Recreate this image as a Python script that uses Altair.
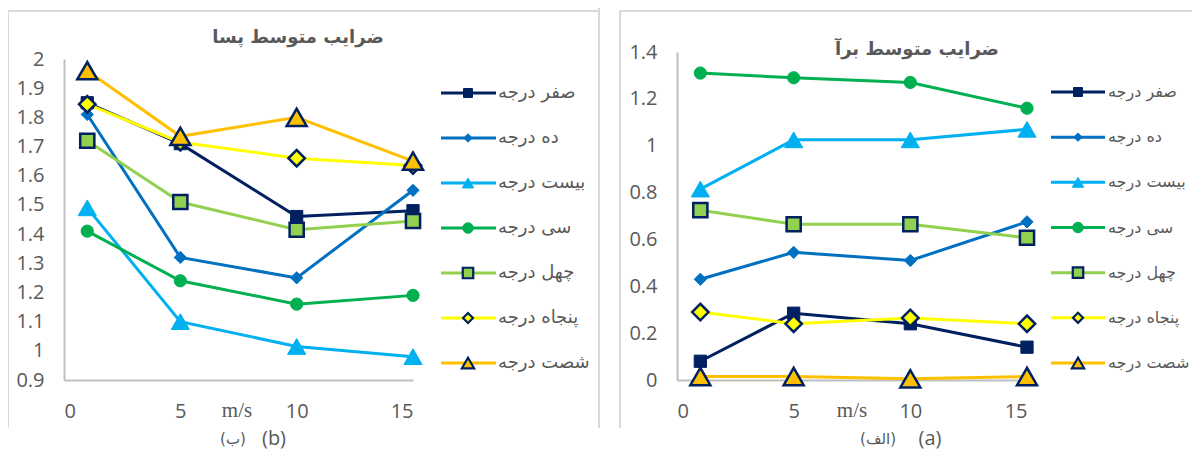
import altair as alt
import pandas as pd

# ---------------- data ----------------
series = ["صفر درجه", "ده درجه", "بیست درجه", "سی درجه", "چهل درجه", "پنجاه درجه", "شصت درجه"]
speeds = [1, 5, 10, 15]

# drag coefficients (panel b)
drag_0 = [1.85, 1.71, 1.46, 1.48]
drag_10 = [1.81, 1.32, 1.25, 1.55]
drag_20 = [1.49, 1.10, 1.015, 0.98]
drag_30 = [1.41, 1.24, 1.16, 1.19]
drag_40 = [1.72, 1.51, 1.415, 1.445]
drag_50 = [1.845, 1.715, 1.66, 1.635]
drag_60 = [1.96, 1.735, 1.80, 1.65]

# lift coefficients (panel a)
lift_0 = [0.08, 0.285, 0.24, 0.14]
lift_10 = [0.43, 0.545, 0.51, 0.675]
lift_20 = [0.815, 1.025, 1.025, 1.07]
lift_30 = [1.31, 1.29, 1.27, 1.16]
lift_40 = [0.725, 0.665, 0.665, 0.607]
lift_50 = [0.29, 0.24, 0.265, 0.24]
lift_60 = [0.015, 0.015, 0.005, 0.015]

x_ticks = [0, 5, 10, 15]
drag_ticks = [0.9, 1.0, 1.1, 1.2, 1.3, 1.4, 1.5, 1.6, 1.7, 1.8, 1.9, 2.0]
lift_ticks = [0, 0.2, 0.4, 0.6, 0.8, 1.0, 1.2, 1.4]

title_drag = "ضرایب متوسط پسا"
title_lift = "ضرایب متوسط برآ"
unit_label = "m/s"

# ---------------- styles ----------------
line_colors = ["#002060", "#0070C0", "#00B0F0", "#00B050", "#92D050", "#FFFF00", "#FFC000"]
marker_strokes = ["#002060", "#0070C0", "#00B0F0", "#00B050", "#002060", "#002060", "#002060"]
marker_shapes = ["square", "diamond", "triangle-up", "circle", "square", "diamond", "triangle-up"]
marker_sizes = [150, 150, 330, 150, 200, 270, 400]
legend_sizes = [80, 70, 130, 110, 110, 100, 150]
marker_widths = [1, 1, 1, 1, 2.5, 2.5, 2.5]
legend_widths = [1, 1, 1, 1, 2.2, 2.2, 2.2]

TXT = "#595959"
AX = "#BFBFBF"
BORDER = "#D9D9D9"
NUM_FONT = "Open Sans"
FA_FONT = "DejaVu Sans"


def long_df(arrays):
    rows = []
    for s, vals in zip(series, arrays):
        for x, v in zip(speeds, vals):
            rows.append({"series": s, "speed": x, "value": v})
    return pd.DataFrame(rows)


drag_df = long_df([drag_0, drag_10, drag_20, drag_30, drag_40, drag_50, drag_60])
lift_df = long_df([lift_0, lift_10, lift_20, lift_30, lift_40, lift_50, lift_60])

color_scale = alt.Scale(domain=series, range=line_colors)


def marker_layers(base, enc, sizes, widths):
    layers = []
    for i, s in enumerate(series):
        layers.append(
            base.transform_filter(alt.datum.series == s).mark_point(
                filled=True, opacity=1, shape=marker_shapes[i], size=sizes[i],
                strokeWidth=widths[i], fill=line_colors[i], stroke=marker_strokes[i],
            ).encode(**enc)
        )
    return layers


def panel(df, x_range, y_domain, y_range, y_ticks, y_offset):
    x = alt.X("speed:Q",
              scale=alt.Scale(domain=[0, 15], range=x_range, nice=False, zero=False),
              axis=alt.Axis(orient="bottom", values=x_ticks, format="d", grid=False, ticks=False,
                            domainColor=AX, domainWidth=2, labelColor=TXT, labelFont=NUM_FONT,
                            labelFontSize=20, labelPadding=21, title=None))
    y = alt.Y("value:Q",
              scale=alt.Scale(domain=y_domain, range=y_range, nice=False, zero=False),
              axis=alt.Axis(orient="left", values=y_ticks, format=".1~f", grid=False, ticks=False,
                            domainColor=AX, domainWidth=2, labelColor=TXT, labelFont=NUM_FONT,
                            labelFontSize=20, labelPadding=20, offset=y_offset, title=None,
                            labelOverlap=False))
    base = alt.Chart(df)
    lines = base.mark_line(strokeWidth=3).encode(
        x=x, y=y,
        color=alt.Color("series:N", scale=color_scale, legend=None),
        order="speed:Q",
    )
    pts = marker_layers(base, {"x": x, "y": y}, marker_sizes, marker_widths)
    return alt.layer(lines, *pts)


def legend(x_line0, x_line1, x_sym, x_text, y_range, font_size):
    ldf = pd.DataFrame({"series": series})
    y = alt.Y("series:N", scale=alt.Scale(type="point", domain=series, range=y_range, padding=0), axis=None)
    base = alt.Chart(ldf)
    rule = base.mark_rule(strokeWidth=3).encode(
        y=y, x=alt.value(x_line0), x2=alt.value(x_line1),
        color=alt.Color("series:N", scale=color_scale, legend=None))
    syms = marker_layers(base, {"y": y, "x": alt.value(x_sym)}, legend_sizes, legend_widths)
    txt = base.mark_text(align="left", baseline="middle", font=FA_FONT, fontSize=font_size, color=TXT).encode(
        y=y, x=alt.value(x_text), text="series:N")
    return alt.layer(rule, *syms, txt)


one = alt.Data(values=[{}])


def label(text, x, y, size=20, font=NUM_FONT, weight="normal"):
    return alt.Chart(one).mark_text(text=text, font=font, fontSize=size, fontWeight=weight,
                                    color=TXT, align="center", baseline="middle").encode(
        x=alt.value(x), y=alt.value(y))


def hline(x0, x1, y):
    return alt.Chart(one).mark_rule(color=BORDER, strokeWidth=2).encode(
        x=alt.value(x0), x2=alt.value(x1), y=alt.value(y))


def vline(x, y0, y1):
    return alt.Chart(one).mark_rule(color=BORDER, strokeWidth=2).encode(
        x=alt.value(x), y=alt.value(y0), y2=alt.value(y1))


borders = [
    hline(-56, 535, -41), vline(-56, -41, 376), vline(535, -44, 376),
    hline(556, 1130, -41), vline(556, -41, 376),
]

texts = [
    label(title_drag, 234, -14, size=18, font=FA_FONT, weight="bold"),
    label(title_lift, 853, -2, size=18, font=FA_FONT, weight="bold"),
    label(unit_label, 173, 359, size=21, font="Liberation Serif"),
    label(unit_label, 788, 359, size=21, font="Liberation Serif"),
    label("(ب)", 169, 387, size=15, font=FA_FONT),
    label("(b)", 210, 387, size=20),
    label("(الف)", 814, 387, size=15, font=FA_FONT),
    label("(a)", 866, 387, size=20),
]

left = panel(drag_df, [0, 349], [0.9, 2.0], [328, 7], drag_ticks, 0)
right = panel(lift_df, [613, 963], [0, 1.4], [328, 0], lift_ticks, -613)
leg_left = legend(377, 432, 404, 434, [41, 311], 18)
leg_right = legend(987, 1041, 1014, 1044, [40, 311], 16)

chart = alt.layer(*borders, left, right, leg_left, leg_right, *texts).resolve_scale(
    x="independent", y="independent"
).properties(
    width=1120, height=328,
    autosize=alt.AutoSizeParams(type="none"),
    padding={"left": 56, "top": 44, "right": 8, "bottom": 70},
    background="white",
).configure_view(stroke=None)

chart.save("out.html", embed_options={"renderer": "svg", "actions": False})
